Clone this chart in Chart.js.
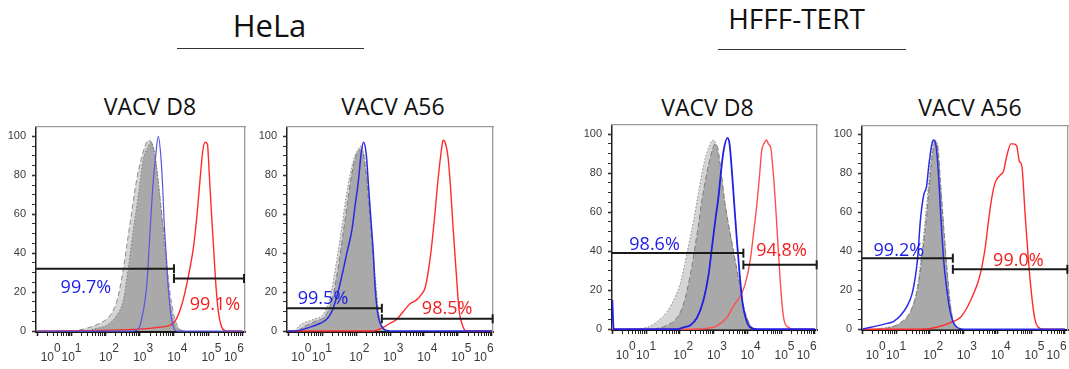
<!DOCTYPE html>
<html><head><meta charset="utf-8">
<script src="https://cdn.jsdelivr.net/npm/chart.js@4/dist/chart.umd.min.js"></script>
<style>
html,body{margin:0;padding:0;background:#fff;width:1069px;height:369px;overflow:hidden;position:relative;}
canvas{position:absolute;}
.t{position:absolute;font-family:'Open Sans',sans-serif;color:#111;white-space:nowrap;transform:translateX(-50%);line-height:1.362;}
.rule{position:absolute;height:0;border-top:1.5px solid #333;}
</style></head><body>
<div class="t" style="left:269.5px;top:3.9px;font-size:31px;">HeLa</div>
<div class="rule" style="left:177px;top:47.5px;width:187px;"></div>
<div class="t" style="left:796.5px;top:-0.9px;font-size:28px;">HFFF-TERT</div>
<div class="rule" style="left:718px;top:48.5px;width:188px;"></div>
<div class="t" style="left:150px;top:91.4px;font-size:23px;">VACV D8</div>
<div class="t" style="left:393px;top:91.4px;font-size:23px;">VACV A56</div>
<div class="t" style="left:707.5px;top:92.4px;font-size:23px;">VACV D8</div>
<div class="t" style="left:970px;top:92.4px;font-size:23px;">VACV A56</div>
<script>
// ---------- axis labels ----------
const xTickPowers = [0, 1, 2, 3, 4, 5, 6];
const xTickBase = '10';
const yTickValues = [0, 20, 40, 60, 80, 100];

// ---------- Panel 1: HeLa, VACV D8 ----------
const p1CtrlAX = [1.0, 1.35, 1.83, 2.13, 2.32, 2.47, 2.62, 2.76, 2.91, 3.05, 3.2, 3.28, 3.41, 3.57, 3.74, 3.88, 4.03, 4.17, 4.3];
const p1CtrlAY = [0, 1, 4, 8, 15, 27, 44, 61, 78, 89, 97, 98, 93, 71, 44, 20, 6, 1, 0];
const p1CtrlBX = [1.5, 1.64, 2.03, 2.32, 2.52, 2.66, 2.81, 2.96, 3.1, 3.25, 3.32, 3.44, 3.59, 3.74, 3.86, 3.98, 4.13, 4.3];
const p1CtrlBY = [0, 1, 3, 8, 16, 32, 52, 70, 88, 95, 97, 91, 69, 40, 18, 6, 1, 0];
const p1BlueX = [0, 2.81, 2.96, 3.05, 3.2, 3.32, 3.38, 3.47, 3.54, 3.61, 3.67, 3.71, 3.77, 3.83, 3.93, 4.08, 6];
const p1BlueY = [0, 0, 1, 6, 23, 57, 74, 91, 100, 91, 74, 57, 40, 23, 6, 0, 0];
const p1RedX = [0, 3.0, 3.59, 3.98, 4.22, 4.42, 4.57, 4.66, 4.76, 4.84, 4.91, 4.98, 5.03, 5.1, 5.17, 5.23, 5.3, 5.4, 5.54, 6];
const p1RedY = [0, 1, 2, 4, 13, 28, 43, 57, 77, 92, 97, 96, 82, 60, 40, 23, 10, 2, 0, 0];
const p1GateX = [[-0.04, 4.0], [4.0, 6.05]];
const p1GateY = [32, 27];
const p1PctText = ['99.7%', '99.1%'];
const p1PctX = [1.42, 5.2];
const p1PctY = [22.1, 13.5];

// ---------- Panel 2: HeLa, VACV A56 ----------
const p2CtrlAX = [0.2, 0.35, 0.75, 1.05, 1.25, 1.42, 1.57, 1.7, 1.82, 1.95, 2.08, 2.15, 2.27, 2.38, 2.48, 2.58, 2.68, 2.78, 2.9];
const p2CtrlAY = [0, 3, 6, 9, 18, 35, 52, 68, 80, 89, 94, 95, 87, 68, 46, 25, 8, 2, 0];
const p2CtrlBX = [0.3, 0.45, 0.8, 1.1, 1.3, 1.47, 1.62, 1.75, 1.87, 1.98, 2.1, 2.2, 2.3, 2.4, 2.5, 2.6, 2.7, 2.8, 2.9];
const p2CtrlBY = [0, 2, 5, 8, 16, 32, 50, 66, 80, 89, 93, 92, 80, 60, 38, 18, 5, 1, 0];
const p2BlueX = [0, 0.17, 0.65, 0.95, 1.14, 1.29, 1.44, 1.58, 1.73, 1.88, 1.97, 2.07, 2.15, 2.22, 2.3, 2.37, 2.44, 2.51, 2.56, 2.63, 2.71, 2.82, 3.0, 6];
const p2BlueY = [0, 0, 2, 4, 6, 10, 18, 28, 40, 52, 64, 77, 91, 97, 91, 74, 57, 40, 23, 10, 4, 1, 0, 0];
const p2RedX = [0, 2.51, 2.81, 3.0, 3.2, 3.39, 3.59, 3.78, 3.93, 4.03, 4.12, 4.22, 4.32, 4.42, 4.52, 4.56, 4.64, 4.71, 4.78, 4.86, 4.96, 5.03, 5.13, 5.25, 6];
const p2RedY = [0, 0, 2, 4, 6, 10, 14, 16, 19, 22, 30, 43, 60, 79, 94, 98, 96, 89, 74, 52, 27, 11, 3, 0, 0];
const p2GateX = [[-0.03, 2.76], [2.76, 6.02]];
const p2GateY = [11.7, 6.3];
const p2PctText = ['99.5%', '98.5%'];
const p2PctX = [1.03, 4.68];
const p2PctY = [16.4, 11.3];

// ---------- Panel 3: HFFF-TERT, VACV D8 ----------
const p3CtrlAX = [0.54, 1.03, 1.33, 1.62, 1.87, 2.02, 2.21, 2.41, 2.56, 2.7, 2.85, 3.0, 3.1, 3.2, 3.34, 3.49, 3.64, 3.77, 3.88, 3.98, 4.13, 4.28];
const p3CtrlAY = [0, 1, 4, 9, 17, 24, 39, 56, 71, 84, 93, 97, 92, 81, 64, 49, 35, 23, 12, 6, 1, 0];
const p3CtrlBX = [1.23, 1.62, 1.92, 2.11, 2.31, 2.51, 2.7, 2.9, 3.05, 3.12, 3.22, 3.34, 3.49, 3.64, 3.77, 3.88, 3.98, 4.13, 4.28];
const p3CtrlBY = [0, 2, 6, 13, 28, 49, 71, 88, 95, 93, 81, 64, 49, 35, 23, 12, 6, 1, 0];
const p3BlueX = [0, 0.04, 1.92, 2.11, 2.31, 2.51, 2.7, 2.85, 2.95, 3.05, 3.15, 3.22, 3.29, 3.41, 3.47, 3.54, 3.61, 3.69, 3.77, 3.86, 3.96, 4.08, 4.28, 6];
const p3BlueY = [15, 0, 0, 1, 2, 6, 15, 28, 42, 56, 69, 81, 91, 98, 95, 81, 64, 45, 28, 13, 5, 1, 0, 0];
const p3RedX = [0, 2.31, 3.0, 3.2, 3.39, 3.59, 3.79, 3.93, 4.08, 4.18, 4.28, 4.36, 4.42, 4.52, 4.57, 4.62, 4.69, 4.77, 4.85, 4.92, 5.0, 5.08, 5.21, 5.36, 6];
const p3RedY = [0, 0, 1, 3, 6, 12, 17, 23, 35, 49, 64, 79, 91, 96, 97, 95, 93, 79, 59, 39, 18, 5, 1, 0, 0];
const p3GateX = [[-0.01, 3.88], [3.88, 6.05]];
const p3GateY = [39, 33];
const p3PctText = ['98.6%', '94.8%'];
const p3PctX = [1.25, 5.01];
const p3PctY = [43.2, 40.3];

// ---------- Panel 4: HFFF-TERT, VACV A56 ----------
const p4CtrlAX = [0.25, 0.74, 1.13, 1.43, 1.62, 1.77, 1.87, 1.97, 2.06, 2.14, 2.23, 2.31, 2.41, 2.51, 2.61, 2.7, 2.85];
const p4CtrlAY = [0, 1, 3, 9, 21, 41, 58, 76, 91, 97, 94, 76, 52, 30, 12, 4, 0];
const p4CtrlBX = [0.44, 0.84, 1.18, 1.45, 1.64, 1.79, 1.9, 1.99, 2.08, 2.16, 2.24, 2.31, 2.41, 2.51, 2.61, 2.7, 2.85];
const p4CtrlBY = [0, 1, 4, 10, 21, 40, 57, 75, 90, 96, 93, 76, 52, 30, 12, 4, 0];
const p4BlueX = [0, 0.25, 0.74, 0.93, 1.13, 1.33, 1.47, 1.57, 1.64, 1.72, 1.82, 1.9, 1.97, 2.06, 2.11, 2.19, 2.26, 2.33, 2.41, 2.49, 2.59, 2.68, 2.8, 3.0, 6];
const p4BlueY = [0, 1, 3, 4, 7, 12, 18, 27, 37, 56, 69, 73, 84, 95, 97, 93, 78, 56, 35, 22, 10, 4, 1, 0, 0];
const p4RedX = [0, 1.72, 2.21, 2.7, 2.9, 3.1, 3.29, 3.44, 3.54, 3.64, 3.74, 3.83, 3.93, 4.08, 4.18, 4.28, 4.4, 4.47, 4.57, 4.65, 4.72, 4.82, 4.92, 5.01, 5.11, 5.21, 5.36, 6];
const p4RedY = [0, 0, 1, 4, 6, 11, 18, 25, 32, 42, 56, 67, 75, 79, 81, 89, 95, 95, 94, 86, 84, 59, 35, 18, 5, 1, 0, 0];
const p4GateX = [[-0.01, 2.68], [2.68, 6.07]];
const p4GateY = [36.4, 30.7];
const p4PctText = ['99.2%', '99.0%'];
const p4PctX = [1.08, 4.62];
const p4PctY = [40, 34.9];

// ---------- rendering ----------
const zip = (xs, ys) => xs.map((x, i) => ({x: x, y: ys[i]}));
const SPACE = 3.34; // space advance at 12px Liberation Sans
const labelShift = [10, -4, 0, 0, 0, 0, -12];
function pad(str, shift) {
  const n = Math.round(Math.abs(shift) / (SPACE / 2));
  const s = ' '.repeat(n);
  return shift >= 0 ? s + str : str + s;
}
function xLabel(i) {
  const sh = labelShift[i] || 0;
  return [pad(String(xTickPowers[i]), sh + 10), pad(xTickBase, sh)];
}
const xTickVals = [];
for (let n = 0; n < 6; n++) for (let k = 1; k <= 9; k++) xTickVals.push(n + Math.log10(k));
xTickVals.push(6);
const yTickVals = [];
for (let v = 0; v <= 100; v += 5) yTickVals.push(v);

const pctPlugin = {
  id: 'pct',
  afterDatasetsDraw(chart, args, opts) {
    const {ctx} = chart; const x = chart.scales.x, y = chart.scales.y;
    ctx.save();
    ctx.font = '18px "Open Sans"';
    ctx.textAlign = 'center'; ctx.textBaseline = 'middle';
    opts.items.forEach(it => {
      ctx.fillStyle = it.color;
      ctx.fillText(it.text, x.getPixelForValue(it.x), y.getPixelForValue(it.y));
    });
    ctx.restore();
  }
};

function makePanel(p) {
  const [l, t, r, b] = p.frame;
  const cv = document.createElement('canvas');
  const W = r - l + 36 + 10, H = b - t + 5 + 37;
  cv.width = W; cv.height = H;
  cv.style.left = (l - 36) + 'px'; cv.style.top = (t - 5) + 'px';
  document.body.appendChild(cv);
  const dashA = p.aDashed ? [5, 3] : [1.5, 2];
  const dashB = p.aDashed ? [1.5, 2] : [5, 3];
  const curve = {pointRadius: 0, cubicInterpolationMode: 'monotone', type: 'line'};
  const datasets = [
    Object.assign({}, curve, {data: zip(p.ax, p.ay), fill: 'origin', backgroundColor: '#d5d5d5', borderColor: '#8c8c8c', borderWidth: 1, borderDash: dashA, order: 6}),
    Object.assign({}, curve, {data: zip(p.bx, p.by), fill: 'origin', backgroundColor: 'rgba(150,150,150,0.7)', borderColor: '#7d7d7d', borderWidth: 1, borderDash: dashB, order: 5}),
    Object.assign({}, curve, {data: zip(p.rx, p.ry), fill: false, borderColor: p.red, borderWidth: 1.4, order: 4}),
    Object.assign({}, curve, {data: zip(p.blx, p.bly), fill: false, borderColor: p.blue, borderWidth: p.blueW, order: 3})
  ];
  p.gx.forEach((g, i) => {
    datasets.push({type: 'line', data: [{x: g[0], y: p.gy[i]}, {x: g[1], y: p.gy[i]}],
      borderColor: '#1a1a1a', borderWidth: 2, pointStyle: 'line', rotation: 90,
      pointRadius: i === 0 ? [0, 4.5] : [4.5, 4.5], pointBorderColor: '#1a1a1a', pointBorderWidth: 2,
      fill: false, clip: false, order: 1});
  });
  const items = p.pt.map((s, i) => ({text: s, x: p.px[i], y: p.py[i], color: i === 0 ? '#1c1ce8' : '#ef2020'}));
  new Chart(cv, {
    type: 'line',
    data: {datasets},
    plugins: [pctPlugin],
    options: {
      responsive: false, animation: false, devicePixelRatio: 1, events: [],
      layout: {padding: {top: 5, right: 10, left: 0, bottom: 0}},
      plugins: {legend: {display: false}, tooltip: {enabled: false}, pct: {items}},
      scales: {
        x: {type: 'linear', position: 'bottom', min: p.xmin, max: p.xmax,
          afterBuildTicks: s => { s.ticks = xTickVals.map(v => ({value: v})); },
          afterFit: s => { s.height = 37; s.paddingLeft = 0; s.paddingRight = 0; },
          border: {color: '#151515', width: 2},
          grid: {drawOnChartArea: false, drawTicks: true, tickLength: 4, tickColor: '#222',
            tickWidth: c => (Math.abs(c.tick.value - Math.round(c.tick.value)) < 1e-6 ? 1.6 : 1)},
          ticks: {autoSkip: false, maxRotation: 0, minRotation: 0, padding: 9, color: '#3a3a3a',
            font: {family: 'Liberation Sans', size: 12, lineHeight: 0.68},
            callback: v => { const ri = Math.round(v); return Math.abs(v - ri) < 1e-6 ? xLabel(ri) : ''; }}
        },
        y: {type: 'linear', position: 'left', min: p.ymin, max: p.ymax,
          afterBuildTicks: s => { s.ticks = yTickVals.map(v => ({value: v})); },
          afterFit: s => { s.width = 36; s.paddingTop = 0; s.paddingBottom = 0; },
          border: {color: '#222', width: 1.5},
          grid: {drawOnChartArea: false, drawTicks: true, tickLength: 4, tickColor: '#333',
            tickWidth: c => (c.tick.value % 20 === 0 ? 1.6 : 1)},
          ticks: {autoSkip: false, padding: 6, color: '#3a3a3a', font: {family: 'Liberation Sans', size: 11},
            callback: v => (yTickValues.indexOf(v) >= 0 ? String(v) : '')}
        },
        x2: {type: 'linear', position: 'top', min: 0, max: 1, grid: {display: false}, ticks: {display: false},
          border: {color: '#9a9a9a', width: 1.3}, afterFit: s => { s.height = 0; }},
        y2: {type: 'linear', position: 'right', min: 0, max: 1, grid: {display: false}, ticks: {display: false},
          border: {color: '#9a9a9a', width: 1.3}, afterFit: s => { s.width = 0; }}
      }
    }
  });
}

makePanel({frame: [36, 125, 245, 332], xmin: -0.04, xmax: 6.08, ymin: -0.5, ymax: 105.1, aDashed: true,
  ax: p1CtrlAX, ay: p1CtrlAY, bx: p1CtrlBX, by: p1CtrlBY, blx: p1BlueX, bly: p1BlueY, rx: p1RedX, ry: p1RedY,
  gx: p1GateX, gy: p1GateY, pt: p1PctText, px: p1PctX, py: p1PctY, blue: '#5555e0', blueW: 1.2, red: '#ff2b2b'});
makePanel({frame: [287, 125, 493, 332], xmin: -0.03, xmax: 6.03, ymin: -0.5, ymax: 105.1, aDashed: false,
  ax: p2CtrlAX, ay: p2CtrlAY, bx: p2CtrlBX, by: p2CtrlBY, blx: p2BlueX, bly: p2BlueY, rx: p2RedX, ry: p2RedY,
  gx: p2GateX, gy: p2GateY, pt: p2PctText, px: p2PctX, py: p2PctY, blue: '#2a2ae0', blueW: 1.5, red: '#ff2b2b'});
makePanel({frame: [612, 123, 817, 330], xmin: -0.01, xmax: 6.06, ymin: -0.4, ymax: 104.9, aDashed: false,
  ax: p3CtrlAX, ay: p3CtrlAY, bx: p3CtrlBX, by: p3CtrlBY, blx: p3BlueX, bly: p3BlueY, rx: p3RedX, ry: p3RedY,
  gx: p3GateX, gy: p3GateY, pt: p3PctText, px: p3PctX, py: p3PctY, blue: '#1f1fe6', blueW: 1.8, red: '#ff5050'});
makePanel({frame: [862, 124, 1068, 330], xmin: -0.01, xmax: 6.09, ymin: -0.4, ymax: 104.4, aDashed: false,
  ax: p4CtrlAX, ay: p4CtrlAY, bx: p4CtrlBX, by: p4CtrlBY, blx: p4BlueX, bly: p4BlueY, rx: p4RedX, ry: p4RedY,
  gx: p4GateX, gy: p4GateY, pt: p4PctText, px: p4PctX, py: p4PctY, blue: '#2a2ae6', blueW: 1.5, red: '#ff2b2b'});
</script>
</body></html>
